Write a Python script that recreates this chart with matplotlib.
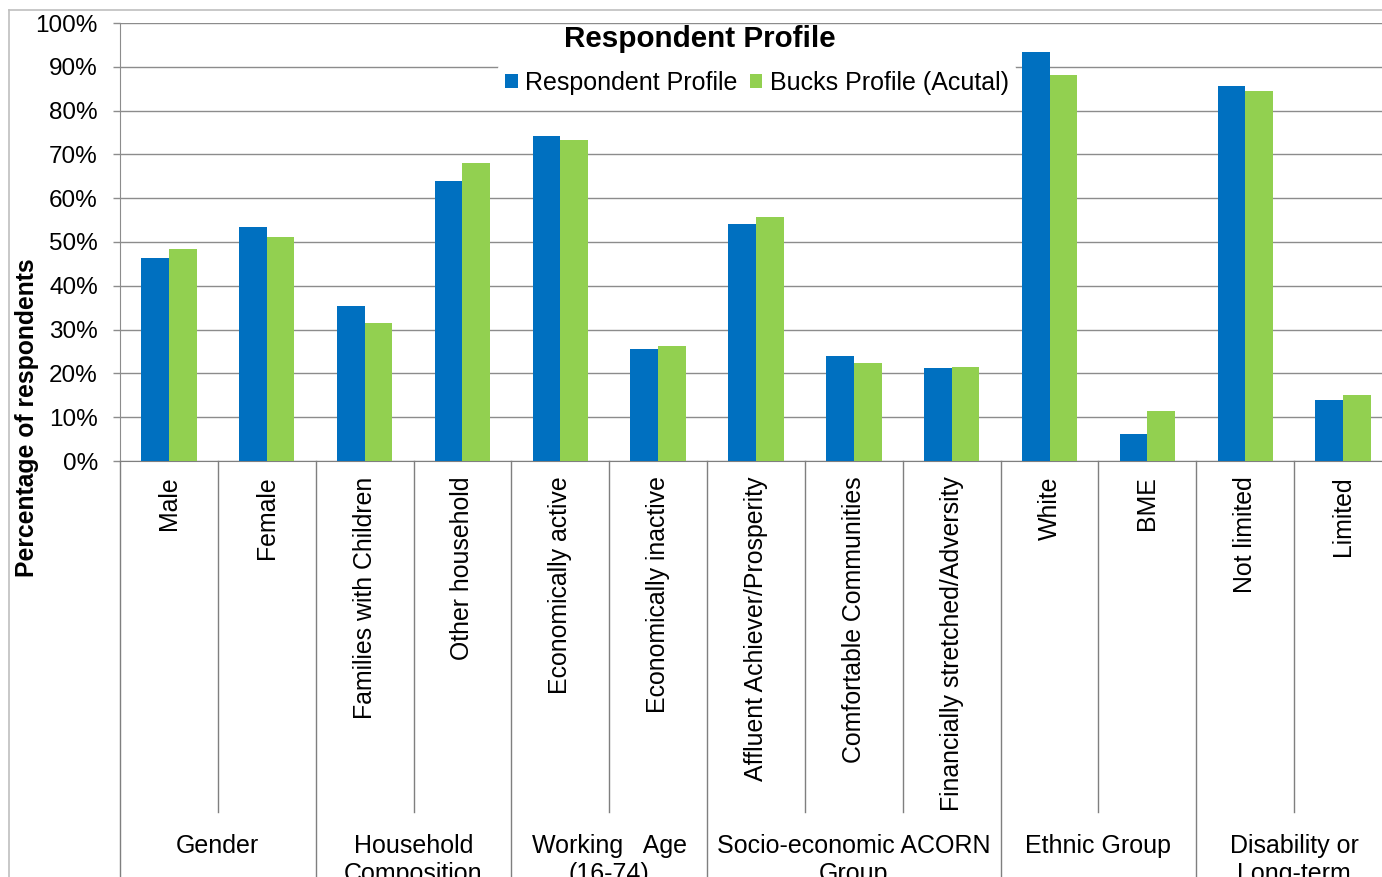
import numpy as np
import matplotlib
matplotlib.use("Agg")
import matplotlib.pyplot as plt
from matplotlib.lines import Line2D
from matplotlib.transforms import blended_transform_factory

plt.rcParams['font.family'] = ['Liberation Sans', 'DejaVu Sans']

categories = ["Male", "Female", "Families with Children", "Other household",
              "Economically active", "Economically inactive",
              "Affluent Achiever/Prosperity", "Comfortable Communities",
              "Financially stretched/Adversity", "White", "BME",
              "Not limited", "Limited"]
respondent = [46.3, 53.4, 35.5, 63.9, 74.2, 25.6, 54.2, 24.0, 21.3, 93.4, 6.1, 85.7, 14.0]
bucks = [48.4, 51.2, 31.6, 68.1, 73.4, 26.3, 55.7, 22.3, 21.5, 88.2, 11.4, 84.5, 15.1]
groups = ["Gender", "Household\nComposition", "Working   Age\n(16-74)",
          "Socio-economic ACORN\nGroup", "Ethnic Group", "Disability or\nLong-term"]
group_sizes = [2, 2, 2, 3, 2, 2]
series_names = ["Respondent Profile", "Bucks Profile (Acutal)"]
yticks = [0, 10, 20, 30, 40, 50, 60, 70, 80, 90, 100]

BLUE = "#0070C0"
GREEN = "#92D050"
GRID = "#8C8C8C"
SEP = "#7F7F7F"

W, H = 1382, 877
fig = plt.figure(figsize=(W / 100, H / 100), dpi=100)

# axes: x from 120px to 1392px (extends past right edge), y from 23px (100%) to 461px (0%)
x0, x1, ytop, ybot = 120, 1392, 23, 461
ax = fig.add_axes([x0 / W, 1 - ybot / H, (x1 - x0) / W, (ybot - ytop) / H])

n = len(categories)
idx = np.arange(n)
bw = 0.283
ax.bar(idx + 0.5 - bw / 2, respondent, width=bw, color=BLUE, label=series_names[0], zorder=3)
ax.bar(idx + 0.5 + bw / 2, bucks, width=bw, color=GREEN, label=series_names[1], zorder=3)

ax.set_xlim(0, n)
ax.set_ylim(0, 100)
ax.set_yticks(yticks)
ax.set_yticklabels([f"{v}%" for v in yticks], fontsize=17.5)
ax.yaxis.grid(True, color=GRID, linewidth=1.0, zorder=0)
ax.set_axisbelow(True)
ax.tick_params(axis='y', length=5, width=1, color=GRID, pad=11)

ax.set_xticks(idx + 0.5)
ax.set_xticklabels(categories, rotation=90, fontsize=17.9)
ax.tick_params(axis='x', length=0, pad=11)

for s in ["top", "right"]:
    ax.spines[s].set_visible(False)
ax.spines["left"].set_color(GRID)
ax.spines["bottom"].set_color(SEP)

# category separators
tr = blended_transform_factory(ax.transData, ax.transAxes)
inner_bottom = (ybot - 812) / (ybot - ytop)
full_bottom = (ybot - 900) / (ybot - ytop)
group_edges = np.concatenate([[0], np.cumsum(group_sizes)])
for k in range(n + 1):
    bottom = full_bottom if k in group_edges else inner_bottom
    ax.add_line(Line2D([k, k], [0, bottom], transform=tr, color=SEP,
                       linewidth=1.0, clip_on=False))

# group labels
ytxt = (ybot - 834) / (ybot - ytop)
for g, a, b in zip(groups, group_edges[:-1], group_edges[1:]):
    ax.text((a + b) / 2, ytxt, g, transform=tr, ha='center', va='top',
            fontsize=18, linespacing=1.2, clip_on=False)

# title
fig.text(700 / W, 1 - 39 / H, "Respondent Profile", ha='center', va='center',
         fontsize=21.3, fontweight='bold')

# legend
leg = fig.legend(loc='center', bbox_to_anchor=(757 / W, 1 - 83 / H), ncol=2,
                 fontsize=18, frameon=True, facecolor='white', edgecolor='none',
                 framealpha=1, handlelength=0.5, handleheight=0.5,
                 handletextpad=0.3, columnspacing=0.5, borderpad=0.3,
                 borderaxespad=0)

# y label
fig.text(27 / W, 1 - 418 / H, "Percentage of respondents", rotation=90,
         ha='center', va='center', fontsize=17.8, fontweight='bold')

# outer chart border (top and left)
fig.add_artist(Line2D([9 / W, 9 / W], [1 - 10 / H, -0.05], transform=fig.transFigure,
                      color="#BFBFBF", linewidth=1.2))
fig.add_artist(Line2D([9 / W, 1.05], [1 - 10 / H, 1 - 10 / H], transform=fig.transFigure,
                      color="#BFBFBF", linewidth=1.2))

fig.savefig("out.png", dpi=100)
